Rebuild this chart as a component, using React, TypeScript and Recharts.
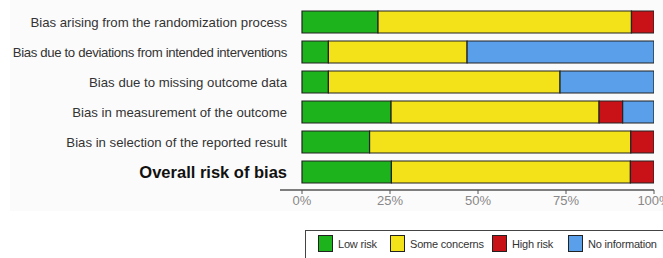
import React from 'react';
import { BarChart, Bar, XAxis, YAxis } from 'recharts';

const domains = [
  'Bias arising from the randomization process',
  'Bias due to deviations from intended interventions',
  'Bias due to missing outcome data',
  'Bias in measurement of the outcome',
  'Bias in selection of the reported result',
  'Overall risk of bias',
];
const lowRisk = [21.6, 7.5, 7.5, 25.3, 19.2, 25.4];
const someConcerns = [72.0, 39.4, 65.8, 59.1, 74.2, 67.9];
const highRisk = [6.4, 0, 0, 6.7, 6.6, 6.7];
const noInformation = [0, 53.1, 26.7, 8.9, 0, 0];
const xTicks = [0, 25, 50, 75, 100];

const series = [
  { key: 'low', name: 'Low risk', color: '#1db31d' },
  { key: 'some', name: 'Some concerns', color: '#f3e21a' },
  { key: 'high', name: 'High risk', color: '#c81218' },
  { key: 'noinfo', name: 'No information', color: '#5a9fe9' },
];

const data = domains.map((d, i) => ({
  domain: d,
  low: lowRisk[i],
  some: someConcerns[i],
  high: highRisk[i],
  noinfo: noInformation[i],
}));

const font = '"Liberation Sans", Arial, sans-serif';

const DomainTick = (props: any) => {
  const { y, payload } = props;
  const overall = payload.value === 'Overall risk of bias';
  const long = payload.value.length > 45;
  return (
    <text
      x={287}
      y={y}
      dy={overall ? 6 : 5}
      textAnchor="end"
      fontFamily={font}
      fontSize={overall ? 16.5 : 13.2}
      fontWeight={overall ? 700 : 400}
      letterSpacing={long ? -0.35 : 0}
      fill={overall ? '#111' : '#333'}
    >
      {payload.value}
    </text>
  );
};

const App = () => {
  return (
    <div style={{ position: 'fixed', left: 0, top: 0, width: 663, height: 258, overflow: 'hidden', background: '#fff' }}>
      <div style={{ position: 'absolute', left: 10, top: 0, width: 653, height: 211, background: '#fcfbfb' }} />
      <div style={{ position: 'absolute', left: 0, top: 0 }}>
        <BarChart
          width={700}
          height={258}
          data={data}
          layout="vertical"
          margin={{ top: 7, right: 46, bottom: 38, left: 0 }}
          barSize={22}
        >
          <XAxis
            type="number"
            domain={[-6.25, 100]}
            allowDataOverflow
            ticks={xTicks}
            tickFormatter={(v) => `${v}%`}
            tickSize={4}
            tickMargin={2}
            height={30}
            axisLine={{ stroke: '#555', strokeWidth: 1.5 }}
            tickLine={{ stroke: '#555' }}
            tick={{ fill: '#888', fontSize: 13, fontFamily: font }}
          />
          <YAxis
            type="category"
            dataKey="domain"
            width={280}
            axisLine={false}
            tickLine={false}
            padding={{ top: 0, bottom: 3 }}
            tick={<DomainTick />}
            interval={0}
          />
          {series.map((s) => (
            <Bar
              key={s.key}
              dataKey={s.key}
              name={s.name}
              stackId="a"
              fill={s.color}
              stroke="#222"
              strokeWidth={1.2}
              isAnimationActive={false}
            />
          ))}
        </BarChart>
      </div>
      <div
        style={{
          position: 'absolute',
          left: 305,
          top: 230,
          width: 380,
          height: 40,
          border: '1px solid #444',
          boxSizing: 'border-box',
          fontFamily: font,
          fontSize: 11,
          color: '#333',
        }}
      >
        {series.map((s, i) => {
          const lefts = [12, 84, 186, 262];
          return (
            <div key={s.key} style={{ position: 'absolute', left: lefts[i], top: 4, display: 'flex', alignItems: 'center' }}>
              <div style={{ width: 13, height: 15, background: s.color, border: '1px solid #222', marginRight: 5 }} />
              <span style={{ whiteSpace: 'nowrap', letterSpacing: -0.2 }}>{s.name}</span>
            </div>
          );
        })}
      </div>
    </div>
  );
};

export default App;
